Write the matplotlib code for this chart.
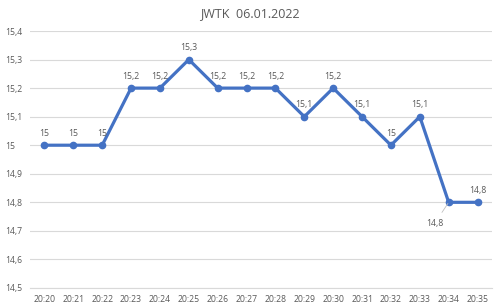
import numpy as np
import matplotlib.pyplot as plt

plt.rcParams['font.family'] = ['Open Sans', 'DejaVu Sans']

times = ['20:20', '20:21', '20:22', '20:23', '20:24', '20:25', '20:26', '20:27',
         '20:28', '20:29', '20:30', '20:31', '20:32', '20:33', '20:34', '20:35']
values = [15.0, 15.0, 15.0, 15.2, 15.2, 15.3, 15.2, 15.2,
          15.2, 15.1, 15.2, 15.1, 15.0, 15.1, 14.8, 14.8]
yticks = [14.5, 14.6, 14.7, 14.8, 14.9, 15.0, 15.1, 15.2, 15.3, 15.4]

def fmt(v):
    s = ('%.1f' % v).replace('.', ',')
    return s[:-2] if s.endswith(',0') else s

fig = plt.figure(figsize=(5, 3.07), dpi=100)
ax = fig.add_axes([0.06, 0.062, 0.924, 0.837])

x = np.arange(len(times))
ax.plot(x, values, color='#4472C4', lw=2.3, marker='o', ms=4.5, zorder=3)

# data labels, the 20:34 one sits below-left with a leader line
for i, v in enumerate(values):
    if i == 14:
        ax.annotate(fmt(v), (i, v), xytext=(-10, -15), textcoords='offset points',
                    ha='center', va='center', fontsize=6.3, color='#595959',
                    arrowprops=dict(arrowstyle='-', color='#bfbfbf', lw=0.6,
                                    shrinkA=3, shrinkB=1))
    else:
        ax.annotate(fmt(v), (i, v), xytext=(0, 8.5), textcoords='offset points',
                    ha='center', va='center', fontsize=6.3, color='#595959')

ax.set_xlim(-0.5, len(times) - 0.5)
ax.set_ylim(14.5, 15.4)
ax.set_xticks(x)
ax.set_xticklabels(times)
ax.set_yticks(yticks)
ax.set_yticklabels([fmt(v) for v in yticks], ha='left')
ax.tick_params(axis='both', length=0, labelsize=6.2, colors='#595959')
ax.tick_params(axis='x', pad=5)
ax.tick_params(axis='y', pad=18)
ax.yaxis.grid(True, color='#d9d9d9', lw=0.8)
ax.set_axisbelow(True)
for s in ax.spines.values():
    s.set_visible(False)
ax.spines['bottom'].set_visible(True)
ax.spines['bottom'].set_color('#d9d9d9')

fig.text(0.5, 0.955, 'JWTK  06.01.2022', ha='center', va='center',
         fontsize=9, color='#595959')

fig.savefig('out.png', dpi=100)
